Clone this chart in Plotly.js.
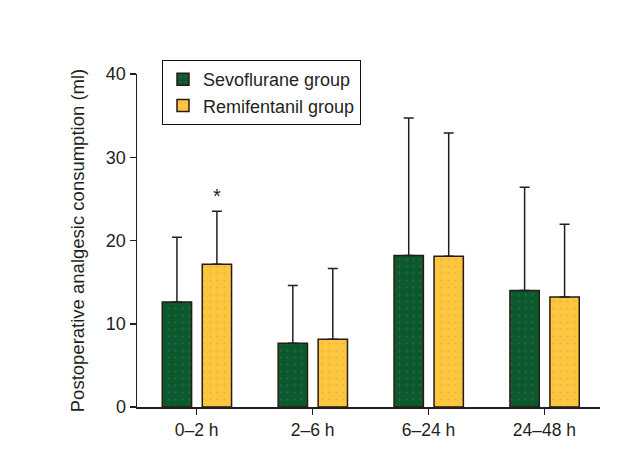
<!DOCTYPE html>
<html>
<head>
<meta charset="utf-8">
<script src="https://cdn.plot.ly/plotly-3.0.1.min.js"></script>
<style>html,body{margin:0;padding:0;background:#fff}#chart{width:639px;height:457px}</style>
</head>
<body>
<div id="chart"></div>
<script>
const categories = ["0\u20132 h", "2\u20136 h", "6\u201324 h", "24\u201348 h"];
const sevoMean = [12.6, 7.65, 18.2, 14.0];
const sevoSD = [7.8, 6.95, 16.5, 12.4];
const remiMean = [17.15, 8.15, 18.1, 13.2];
const remiSD = [6.35, 8.5, 14.8, 8.75];
const seriesNames = ["Sevoflurane group", "Remifentanil group"];
const yTicks = [0, 10, 20, 30, 40];

const ink = "#231f20";
const fam = "Liberation Sans, Arial, sans-serif";

function barTrace(name, means, sds, color, dotColor, offset) {
  return {
    type: "bar", name: name, x: categories, y: means,
    width: 0.253, offset: offset,
    marker: {color: color, line: {color: "#2a1a12", width: 1.5},
      pattern: {shape: ".", fgcolor: dotColor, size: 7, solidity: 0.08, fillmode: "overlay"}},
    error_y: {type: "data", array: sds, arrayminus: sds.map(() => 0), symmetric: false,
      color: ink, thickness: 1.5, width: 5},
    hoverinfo: "none"
  };
}

const data = [
  barTrace(seriesNames[0], sevoMean, sevoSD, "#0b5a2c", "#6b5a9a", -0.297),
  barTrace(seriesNames[1], remiMean, remiSD, "#fcc63f", "#c89a5a", 0.048)
];

const layout = {
  width: 639, height: 457,
  margin: {l: 137, r: 39, t: 74, b: 50},
  paper_bgcolor: "#fff", plot_bgcolor: "#fff",
  font: {family: fam, size: 18, color: ink},
  showlegend: true,
  legend: {x: 0.054, y: 1.042, xanchor: "left", yanchor: "top",
    bordercolor: "#111", borderwidth: 1, bgcolor: "#fff",
    font: {family: fam, size: 18, color: ink}, tracegroupgap: 0},
  xaxis: {type: "category", range: [-0.515, 3.48], showline: true, linecolor: ink, linewidth: 1.5,
    ticks: "outside", ticklen: 6, tickcolor: ink, tickwidth: 1.5,
    tickfont: {family: fam, size: 17.5, color: ink}, showgrid: false, zeroline: false,
    fixedrange: true},
  yaxis: {range: [0, 40], tickvals: yTicks, showline: true, linecolor: ink, linewidth: 1.5,
    ticks: "outside", ticklen: 6, tickcolor: ink, tickwidth: 1.5,
    tickfont: {family: fam, size: 18, color: ink}, showgrid: false, zeroline: false,
    title: {text: "Postoperative analgesic consumption (ml)", font: {family: fam, size: 18.5, color: ink}, standoff: 16},
    fixedrange: true},
  annotations: [{
    x: categories[0], y: remiSD[0] + remiMean[0], xref: "x", yref: "y",
    xshift: 20, yshift: 15, text: "*", showarrow: false,
    font: {family: fam, size: 20, color: ink}
  }]
};

Plotly.newPlot("chart", data, layout, {displayModeBar: false, staticPlot: true});
</script>
</body>
</html>
